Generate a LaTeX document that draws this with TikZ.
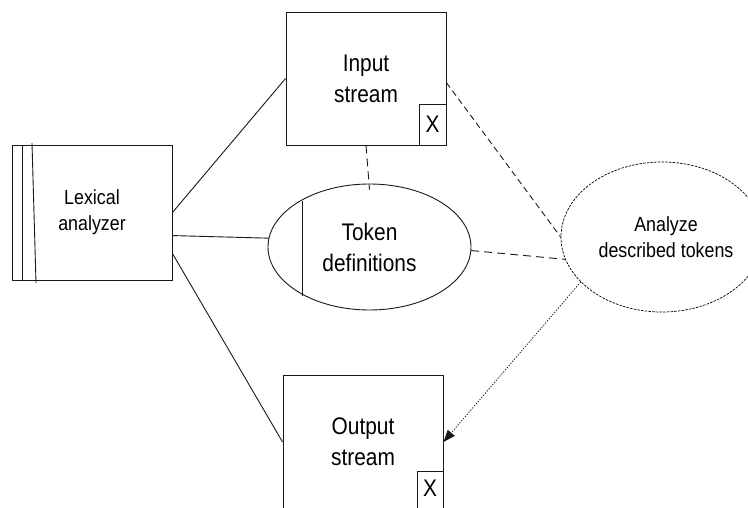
\documentclass[tikz,border=0pt]{standalone}
\usepackage{fontspec}
\setmainfont{Liberation Sans}[FakeStretch=0.87]
\usetikzlibrary{shapes.geometric,arrows.meta}
\begin{document}
\begin{tikzpicture}[x=1pt,y=1pt,
  ln/.style={draw=black!90,line width=0.9pt},
  box/.style={ln,rectangle,inner sep=0pt,align=center},
  oval/.style={ln,ellipse,inner sep=0pt,align=center},
  big/.style={font=\fontsize{24}{31}\selectfont},
  small/.style={font=\fontsize{20.5}{26}\selectfont},
  conn/.style={black!90,line width=0.9pt},
  dashconn/.style={conn,dash pattern=on 8pt off 5pt},
  dotconn/.style={conn,line width=0.75pt,dash pattern=on 1.4pt off 1.4pt,-{Triangle[length=12pt,width=9pt]}}
]
\useasboundingbox (0,0) rectangle (748,507);
\clip (0,0) rectangle (748,507);
\fill[white] (0,0) rectangle (748,507);

% Lexical analyzer
\node[box,small,minimum width=160,minimum height=135] (lex) at (92,294.5) {Lexical\\analyzer};
\draw[ln] (22,227) -- (22,362);
\draw[ln] (32,364) -- (36,224);

% Input stream
\node[box,big,minimum width=160,minimum height=133] (inp) at (366,428.5) {Input\\stream};
\node[box,big,minimum width=27,minimum height=41] (inpx) at (432.5,382.5) {X};

% Token definitions
\node[oval,big,minimum width=203,minimum height=126] (tok) at (369.5,260) {Token\\definitions};
\draw[ln] (302,211) -- (302,306);

% Analyze described tokens
\node[oval,small,draw=black,line width=0.7pt,dash pattern=on 2.5pt off 1.2pt,minimum width=168,minimum height=150] (ana) at (662,270) {\hspace*{8pt}Analyze\\\hspace*{8pt}described tokens};

% Output stream
\node[box,big,minimum width=160,minimum height=134] (out) at (363,65) {Output\\stream};
\draw[ln] (417,-5) rectangle (443,36);
\node[big] (outx) at (430,19) {X};

% connectors
\draw[conn] (lex.east) -- (inp.west);
\draw[conn] (lex.-16.4) -- (tok.175);
\draw[conn] (lex.-27.4) -- (out.west);
\draw[dashconn] (inp.south) -- ([yshift=-6pt]tok.north);
\draw[dashconn] (tok.-2) -- (ana.193);
\draw[conn,dash pattern=on 6pt off 4pt] (inp.-3) -- (ana.west);
\draw[dotconn] (ana.209.5) -- (out.east);
\end{tikzpicture}
\end{document}
